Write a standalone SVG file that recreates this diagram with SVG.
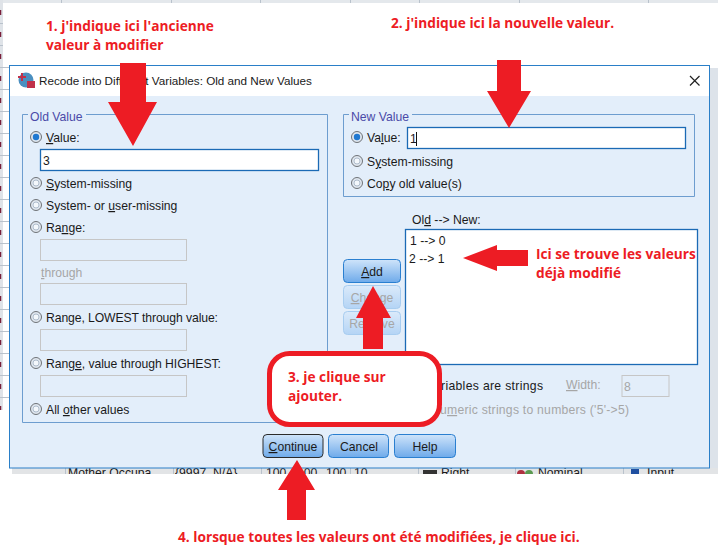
<svg xmlns="http://www.w3.org/2000/svg" width="725" height="556" viewBox="0 0 725 556">
<style>
text{font-family:"Liberation Sans",Arial,sans-serif;font-size:12.2px;fill:#1a1a1a}
.leg{fill:#4a4aa8}
.dis{fill:#a6a6a6}
.note{font-family:"Open Sans","Noto Sans",sans-serif;font-weight:700;font-size:13.7px;fill:#ed1c24}
.grp{fill:none;stroke:#6d9dcf;stroke-width:1}
.inp{fill:#fff;stroke:#1b6ab5;stroke-width:1.3}
.off{fill:#e3eefa;stroke:#c6c6c6;stroke-width:1}
.btn{fill:url(#b);stroke:#2a7fd0;stroke-width:1}
.btnd{fill:url(#bd);stroke:#a8cdf0;stroke-width:1}
.arr{fill:#ed1c24}
.u{text-decoration:underline}
.grid{stroke:#b9c2cc;stroke-width:1;fill:none}
</style>
<defs>
<linearGradient id="b" x1="0" y1="0" x2="0" y2="1"><stop offset="0" stop-color="#cfe4fa"/><stop offset="1" stop-color="#6eaaea"/></linearGradient>
<linearGradient id="bd" x1="0" y1="0" x2="0" y2="1"><stop offset="0" stop-color="#dbeafa"/><stop offset="1" stop-color="#b4d4f5"/></linearGradient>
<g id="radio"><circle r="5.500" fill="#dfe6ee" stroke="#6f7378"/><circle r="3" fill="#f4f8fc" stroke="#9fb0c2" stroke-width="0.800"/></g>
<g id="radioOn"><circle r="5.500" fill="#dfe6ee" stroke="#6f7378"/><circle r="3.200" fill="#1f78d1"/></g>
<clipPath id="bgc"><rect x="0" y="466" width="725" height="8"/></clipPath>
</defs>
<rect width="725" height="556" fill="#fff"/>
<g id="background">
<rect x="0" y="0" width="718" height="3" fill="#e4e8ec"/>
<path class="grid" d="M61.500 0v3M171.500 0v3M260.500 0v3M350.500 0v3M419.500 0v3M519.500 0v3M648.500 0v3"/>
<rect x="0" y="0" width="3" height="410" fill="#dfe3e8"/>
<path fill="none" stroke="#7a1f3a" stroke-width="2.500" stroke-dasharray="5 17" d="M0 10V410"/>
<path class="grid" d="M0 23.500h3M0 45.500h3M0 67.500h9M0 89.500h9M0 111.500h9M0 133.500h9M0 155.500h9M0 177.500h9M0 199.500h9M0 221.500h9M0 243.500h9M0 265.500h9M0 287.500h9M0 309.500h9M0 331.500h9M0 353.500h9M0 375.500h9M0 397.500h9"/>
<rect x="710" y="68" width="8" height="405" fill="#dde3ea"/>
<rect x="12" y="468" width="706" height="6" fill="#e2e4e6"/>
<g clip-path="url(#bgc)">
<text x="68" y="477">Mother Occupa</text>
<text x="175" y="477">{9997, N/A}</text>
<text x="266" y="477">100</text><text x="297" y="477">100</text><text x="326" y="477">100</text><text x="354" y="477">10</text>
<rect x="423" y="470" width="14" height="4" fill="#333"/>
<text x="441" y="477">Right</text>
<circle cx="521" cy="474" r="4" fill="#b03040"/><circle cx="529" cy="474" r="4" fill="#5a9a50"/>
<text x="538" y="477">Nominal</text>
<rect x="631" y="469" width="8" height="5" fill="#1f4fa0"/>
<text x="647" y="477">Input</text>
<path class="grid" d="M65.500 468v6M173.500 468v6M261.500 468v6M350.500 468v6M418.500 468v6M515.500 468v6M623.500 468v6"/>
</g>
</g>
<g id="dialog">
<rect x="9.500" y="65.500" width="700" height="402.500" fill="#e3eefa" stroke="#2a7fc8"/>
<rect x="10" y="66" width="699" height="30" fill="#fff"/>
<circle cx="26" cy="80" r="7.500" fill="#4a8fc0"/>
<rect x="27" y="81" width="8" height="7" fill="#c0314a"/>
<path d="M18 77h8M22 73v8" stroke="#c0314a" stroke-width="2"/>
<text x="39" y="85" style="font-size:11.700px">Recode into Different Variables: Old and New Values</text>
<path d="M690 76l9.500 9.500M699.500 76l-9.500 9.500" stroke="#222" stroke-width="1.200" fill="none"/>
</g>
<g id="old-value">
<path class="grp" d="M28 114.500h-5.500v308h305v-308H86"/>
<text class="leg" x="30" y="120.500">Old Value</text>
<use href="#radioOn" x="36" y="137"/><text x="46" y="142"><tspan class="u">V</tspan>alue:</text>
<rect class="inp" x="40.500" y="149.500" width="278" height="21"/><text x="43" y="165">3</text>
<use href="#radio" x="36" y="183"/><text x="46" y="188"><tspan class="u">S</tspan>ystem-missing</text>
<use href="#radio" x="36" y="205"/><text x="46" y="210">System- or <tspan class="u">u</tspan>ser-missing</text>
<use href="#radio" x="36" y="227"/><text x="46" y="232">Ra<tspan class="u">n</tspan>ge:</text>
<rect class="off" x="40.500" y="239.500" width="146" height="21"/>
<text class="dis" x="41" y="277"><tspan class="u">t</tspan>hrough</text>
<rect class="off" x="40.500" y="283.500" width="146" height="21"/>
<use href="#radio" x="36" y="317"/><text x="46" y="322" textLength="172">Ran<tspan class="u">g</tspan>e, LOWEST through value:</text>
<rect class="off" x="40.500" y="329.500" width="146" height="21"/>
<use href="#radio" x="36" y="363"/><text x="46" y="368" textLength="175">Rang<tspan class="u">e</tspan>, value through HIGHEST:</text>
<rect class="off" x="40.500" y="375.500" width="146" height="21"/>
<use href="#radio" x="36" y="409"/><text x="46" y="414">All <tspan class="u">o</tspan>ther values</text>
</g>
<g id="new-value">
<path class="grp" d="M349 114.500h-5.500v82h351v-82H412"/>
<text class="leg" x="351" y="120.500">New Value</text>
<use href="#radioOn" x="357" y="137"/><text x="367" y="142">Va<tspan class="u">l</tspan>ue:</text>
<rect class="inp" x="407.500" y="127.500" width="278" height="21"/><text x="410" y="143">1</text>
<path d="M416.500 132v14" stroke="#111" stroke-width="1"/>
<use href="#radio" x="357" y="161"/><text x="367" y="166">S<tspan class="u">y</tspan>stem-missing</text>
<use href="#radio" x="357" y="183"/><text x="367" y="188">Co<tspan class="u">p</tspan>y old value(s)</text>
</g>
<g id="list">
<text x="412" y="224">Ol<tspan class="u">d</tspan> --&gt; New:</text>
<rect class="inp" x="405.500" y="229.500" width="292" height="135"/>
<text x="410" y="245">1 --&gt; 0</text>
<text x="409" y="263">2 --&gt; 1</text>
</g>
<g id="buttons-side">
<rect class="btn" x="343.500" y="259.500" width="57" height="23" rx="4"/><text x="372" y="276" text-anchor="middle"><tspan class="u">A</tspan>dd</text>
<rect class="btnd" x="343.500" y="285.500" width="57" height="23" rx="4"/><text class="dis" x="372" y="302" text-anchor="middle"><tspan class="u">C</tspan>hange</text>
<rect class="btnd" x="343.500" y="311.500" width="57" height="23" rx="4"/><text class="dis" x="372" y="328" text-anchor="middle">Remove</text>
</g>
<g id="options">
<text x="441" y="390" textLength="102">riables are strings</text>
<text class="dis" x="566" y="389"><tspan class="u">W</tspan>idth:</text>
<rect class="off" x="622" y="375.500" width="47" height="21"/><text class="dis" x="624" y="391">8</text>
<text class="dis" x="440" y="414" textLength="189">u<tspan class="u">m</tspan>eric strings to numbers ('5'-&gt;5)</text>
</g>
<g id="buttons-bottom">
<rect class="btn" x="263" y="434.500" width="60" height="23" rx="4" style="stroke:#2b2b2b"/><text x="293" y="451" text-anchor="middle"><tspan class="u">C</tspan>ontinue</text>
<rect class="btn" x="328.500" y="434.500" width="60" height="23" rx="4"/><text x="359" y="451" text-anchor="middle">Cancel</text>
<rect class="btn" x="394.500" y="434.500" width="61" height="23" rx="4"/><text x="425" y="451" text-anchor="middle">Help</text>
</g>
<g id="connectors">
<path class="arr" d="M120 63h26v39h11l-24 44-25-44h12z"/>
<path class="arr" d="M497 60h24v31h10l-22 37-22-37h10z"/>
<path class="arr" d="M528 250v16h-31v5l-34-13 34-13v5z"/>
<path class="arr" d="M363 349v-31h-7l17-32 18 32h-8v31z"/>
<path class="arr" d="M287 520v-30h-9l19-30 18 30h-9v30z"/>
</g>
<g id="callout">
<rect x="269.500" y="353.500" width="170" height="71" rx="20" fill="#fff" stroke="#ed1c24" stroke-width="5"/>
<text class="note" x="288" y="382">3. je clique sur</text>
<text class="note" x="288" y="401">ajouter.</text>
</g>
<g id="notes">
<text class="note" x="46" y="31">1. j'indique ici l'ancienne</text>
<text class="note" x="46" y="50">valeur à modifier</text>
<text class="note" x="391" y="28">2. j'indique ici la nouvelle valeur.</text>
<text class="note" x="536" y="259">Ici se trouve les valeurs</text>
<text class="note" x="536" y="278">déjà modifié</text>
<text class="note" x="178" y="542">4. lorsque toutes les valeurs ont été modifiées, je clique ici.</text>
</g>
</svg>
